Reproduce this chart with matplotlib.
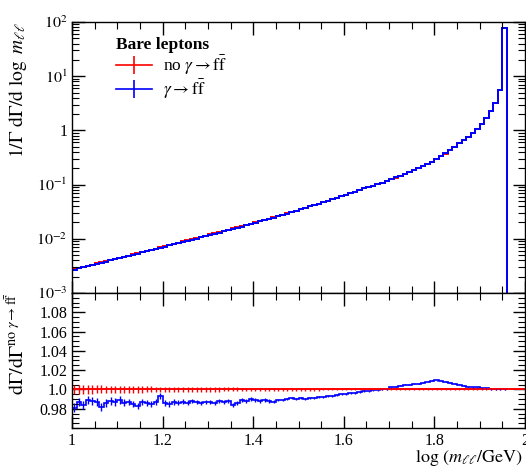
import numpy as np
import matplotlib
matplotlib.use("Agg")
import matplotlib.pyplot as plt
from matplotlib.lines import Line2D
from matplotlib.ticker import MultipleLocator, LogLocator, NullFormatter, FixedLocator, FixedFormatter

plt.rcParams['font.family'] = ['Liberation Serif', 'DejaVu Serif']
plt.rcParams['mathtext.fontset'] = 'stix'

# binning: 0.01 wide bins in log10(m_ll/GeV), starting at 1.0
x_start = 1.0
bin_width = 0.01

# 1/Gamma dGamma/dlog m_ll, no photon splitting (bins 1.00 ... 1.96)
no_split = [
    2.75e-3, 2.88e-3, 3.02e-3, 3.16e-3, 3.35e-3, 3.51e-3, 3.67e-3, 3.85e-3, 4.07e-3, 4.27e-3,
    4.47e-3, 4.68e-3, 4.90e-3, 5.19e-3, 5.43e-3, 5.69e-3, 5.96e-3, 6.31e-3, 6.61e-3, 6.92e-3,
    7.24e-3, 7.67e-3, 8.04e-3, 8.41e-3, 8.91e-3, 9.33e-3, 9.77e-3, 1.023e-2, 1.084e-2, 1.135e-2,
    1.20e-2, 1.26e-2, 1.32e-2, 1.40e-2, 1.46e-2, 1.55e-2, 1.62e-2, 1.70e-2, 1.80e-2, 1.91e-2,
    2.00e-2, 2.11e-2, 2.21e-2, 2.34e-2, 2.48e-2, 2.63e-2, 2.79e-2, 2.95e-2, 3.13e-2, 3.31e-2,
    3.51e-2, 3.72e-2, 3.98e-2, 4.22e-2, 4.47e-2, 4.79e-2, 5.07e-2, 5.43e-2, 5.75e-2, 6.17e-2,
    6.53e-2, 7.00e-2, 7.41e-2, 7.94e-2, 8.51e-2, 9.02e-2, 9.55e-2, 0.102, 0.108, 0.116,
    0.126, 0.135, 0.146, 0.158, 0.170, 0.184, 0.202, 0.219, 0.240, 0.264,
    0.295, 0.331, 0.372, 0.427, 0.495, 0.575, 0.653, 0.750, 0.881, 1.06,
    1.32, 1.72, 2.26, 3.24, 5.56, 78.5,
]

# ratio (gamma -> ff) / (no gamma -> ff)
ratio = [
    0.981, 0.987, 0.984, 0.989, 0.988, 0.987, 0.982, 0.986, 0.988, 0.987,
    0.989, 0.986, 0.987, 0.985, 0.983, 0.987, 0.986, 0.985, 0.987, 0.993,
    0.986, 0.985, 0.987, 0.986, 0.987, 0.986, 0.988, 0.987, 0.986, 0.987,
    0.987, 0.986, 0.988, 0.987, 0.988, 0.984, 0.986, 0.989, 0.988, 0.990,
    0.989, 0.988, 0.989, 0.988, 0.987, 0.989, 0.989, 0.990, 0.991, 0.990,
    0.991, 0.990, 0.991, 0.991, 0.992, 0.992, 0.993, 0.993, 0.994, 0.995,
    0.995, 0.996, 0.996, 0.997, 0.998, 0.998, 0.999, 0.999, 1.000, 1.000,
    1.002, 1.003, 1.004, 1.005, 1.005, 1.006, 1.006, 1.007, 1.008, 1.009,
    1.0095, 1.009, 1.008, 1.007, 1.006, 1.005, 1.004, 1.003, 1.002, 1.002,
    1.001, 1.001, 1.000, 1.000, 1.000, 1.000,
]

# relative statistical uncertainty per bin
rel_err = [
    0.0047, 0.0046, 0.0045, 0.0044, 0.0043, 0.0042, 0.0041, 0.0040, 0.0039, 0.0038,
    0.0037, 0.0036, 0.0035, 0.0034, 0.0033, 0.0033, 0.0032, 0.0031, 0.0030, 0.0030,
    0.0029, 0.0028, 0.0028, 0.0027, 0.0026, 0.0026, 0.0025, 0.0025, 0.0024, 0.0023,
    0.0023, 0.0022, 0.0022, 0.0021, 0.0021, 0.0020, 0.0020, 0.0019, 0.0019, 0.0018,
    0.0018, 0.0017, 0.0017, 0.0016, 0.0016, 0.0015, 0.0015, 0.0014, 0.0014, 0.0014,
    0.0013, 0.0013, 0.0012, 0.0012, 0.0012, 0.0011, 0.0011, 0.0011, 0.0010, 0.0010,
    0.0010, 0.0009, 0.0009, 0.0009, 0.0009, 0.0008, 0.0008, 0.0008, 0.0008, 0.0007,
    0.0007, 0.0007, 0.0007, 0.0006, 0.0006, 0.0006, 0.0006, 0.0005, 0.0005, 0.0005,
    0.0005, 0.0005, 0.0004, 0.0004, 0.0004, 0.0004, 0.0003, 0.0003, 0.0003, 0.0003,
    0.0003, 0.0002, 0.0002, 0.0002, 0.0001, 0.0001,
]

no_split = np.array(no_split)
ratio = np.array(ratio)
rel_err = np.array(rel_err)
with_split = no_split * ratio

edges = x_start + bin_width * np.arange(len(no_split) + 1)
centers = 0.5 * (edges[:-1] + edges[1:])

RED = '#ff0000'
BLUE = '#0000ff'


def log_label(v, pos):
    n = int(round(np.log10(v)))
    if n == 0:
        return '1'
    return r'$10^{%d}$' % n


fig = plt.figure(figsize=(5.26, 4.68), dpi=100)
ax = fig.add_axes([0.137, 0.374, 0.861, 0.579])
axr = fig.add_axes([0.137, 0.0855, 0.861, 0.2885], sharex=ax)

# main panel
ax.stairs(no_split, edges, baseline=1e-5, color=RED, lw=1.4)
ax.stairs(with_split, edges, baseline=1e-5, color=BLUE, lw=1.4)
ax.set_yscale('log')
ax.set_ylim(1e-3, 1e2)
ax.set_xlim(1.0, 2.0)
ax.yaxis.set_major_locator(LogLocator(base=10, numticks=10))
ax.yaxis.set_major_formatter(plt.FuncFormatter(log_label))
ax.yaxis.set_minor_locator(LogLocator(base=10, subs=np.arange(2, 10), numticks=10))
ax.yaxis.set_minor_formatter(NullFormatter())
ax.set_ylabel(r'$1/\Gamma\ \mathrm{d}\Gamma/\mathrm{d}\ \log\ m_{\ell\ell}$', fontsize=14, ha='right')
ax.yaxis.set_label_coords(-0.095, 1.0)

handles = [Line2D([0], [0], color=RED, lw=1.2, marker='|', markersize=13, markeredgewidth=1.2),
           Line2D([0], [0], color=BLUE, lw=1.2, marker='|', markersize=13, markeredgewidth=1.2)]
labels = [r'no $\gamma \rightarrow \mathrm{f\bar{f}}$', r'$\gamma \rightarrow \mathrm{f\bar{f}}$']
leg = ax.legend(handles, labels, loc='upper left', bbox_to_anchor=(0.097, 0.945),
                frameon=False, fontsize=12.5, title='Bare leptons', alignment='left',
                title_fontproperties={'weight': 'bold', 'size': 12.5},
                handlelength=2.1, handletextpad=0.6, borderpad=0, borderaxespad=0,
                labelspacing=0.05)

# ratio panel
axr.axhline(1.0, color=RED, lw=1.4)
axr.errorbar(centers, no_split / no_split, yerr=rel_err, fmt='none', ecolor=RED, elinewidth=1.0)
axr.stairs(ratio, edges, baseline=None, color=BLUE, lw=1.2)
axr.errorbar(centers, ratio, yerr=rel_err * ratio, fmt='none', ecolor=BLUE, elinewidth=1.0)
axr.set_ylim(0.96, 1.1)
axr.yaxis.set_major_locator(FixedLocator([0.98, 1.0, 1.02, 1.04, 1.06, 1.08]))
axr.yaxis.set_major_formatter(FixedFormatter(['0.98', '1.0', '1.02', '1.04', '1.06', '1.08']))
axr.yaxis.set_minor_locator(MultipleLocator(0.005))
axr.xaxis.set_major_locator(MultipleLocator(0.2))
axr.xaxis.set_minor_locator(MultipleLocator(0.05))
axr.xaxis.set_major_formatter(plt.FuncFormatter(lambda v, p: f'{v:g}'))
axr.set_ylabel(r'$\mathrm{d}\Gamma/\mathrm{d}\Gamma^{\mathrm{no}\ \gamma\rightarrow\mathrm{f\bar{f}}}$',
               fontsize=14.5, ha='right')
axr.yaxis.set_label_coords(-0.095, 1.0)
axr.set_xlabel(r'$\log\,(m_{\ell\ell}/\mathrm{GeV})$', fontsize=13, ha='right')
axr.xaxis.set_label_coords(0.995, -0.15)

for a in (ax, axr):
    a.tick_params(which='both', direction='in', top=True, right=True, labelsize=11.5)
    a.tick_params(which='major', length=9, width=1.0)
    a.tick_params(which='minor', length=5, width=0.8)
    for s in a.spines.values():
        s.set_linewidth(1.0)
ax.tick_params(labelbottom=False)

fig.savefig('out.png', dpi=100)
